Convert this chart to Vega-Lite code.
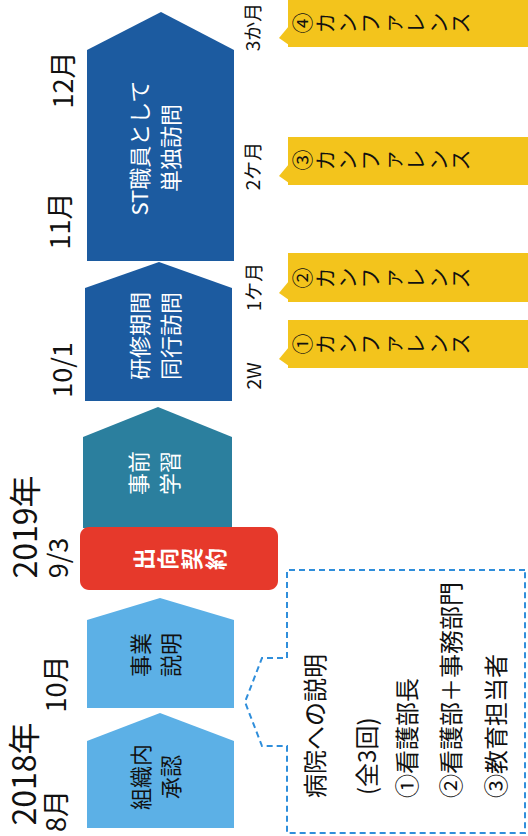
{
  "$schema": "https://vega.github.io/schema/vega-lite/v6.json",
  "width": 528,
  "height": 836,
  "autosize": "none",
  "padding": 0,
  "background": "white",
  "config": {"view": {"stroke": null}, "text": {"font": "Noto Sans CJK JP"}},
  "layer": [
    {
      "data": {"values": [
        {"id": "組織内承認", "phase": "説明", "x": 87, "y": 741, "y2": 828},
        {"id": "組織内承認", "phase": "説明", "x": 160, "y": 713, "y2": 828},
        {"id": "組織内承認", "phase": "説明", "x": 234, "y": 741, "y2": 828},
        {"id": "事業説明", "phase": "説明", "x": 87, "y": 620, "y2": 708},
        {"id": "事業説明", "phase": "説明", "x": 160, "y": 598, "y2": 708},
        {"id": "事業説明", "phase": "説明", "x": 234, "y": 620, "y2": 708},
        {"id": "事前学習", "phase": "学習", "x": 83, "y": 437, "y2": 528},
        {"id": "事前学習", "phase": "学習", "x": 158, "y": 407, "y2": 528},
        {"id": "事前学習", "phase": "学習", "x": 232, "y": 437, "y2": 528},
        {"id": "研修期間同行訪問", "phase": "訪問", "x": 85, "y": 288, "y2": 401},
        {"id": "研修期間同行訪問", "phase": "訪問", "x": 159, "y": 262, "y2": 401},
        {"id": "研修期間同行訪問", "phase": "訪問", "x": 232, "y": 288, "y2": 401},
        {"id": "単独訪問", "phase": "訪問", "x": 87, "y": 50, "y2": 261},
        {"id": "単独訪問", "phase": "訪問", "x": 161, "y": 12, "y2": 261},
        {"id": "単独訪問", "phase": "訪問", "x": 234, "y": 50, "y2": 261}
      ]},
      "mark": {"type": "area", "interpolate": "linear", "opacity": 1},
      "encoding": {
        "x": {"field": "x", "type": "quantitative", "scale": {"domain": [0, 528], "nice": false, "zero": false}, "axis": null},
        "y": {"field": "y", "type": "quantitative", "stack": null, "scale": {"domain": [0, 836], "nice": false, "zero": false, "reverse": true}, "axis": null},
        "y2": {"field": "y2"},
        "detail": {"field": "id", "type": "nominal"},
        "color": {"field": "phase", "type": "nominal", "legend": null,
          "scale": {"domain": ["説明", "学習", "訪問", "契約", "カンファレンス"], "range": ["#5cb0e6", "#2b7f9e", "#1c5ba0", "#e6392b", "#f3c41c"]}}
      }
    },
    {
      "data": {"values": [{"label": "出向契約", "phase": "契約", "x": 80, "x2": 278, "y": 527, "y2": 590}]},
      "mark": {"type": "rect", "cornerRadius": 9},
      "encoding": {
        "x": {"field": "x", "type": "quantitative", "scale": {"domain": [0, 528], "nice": false, "zero": false}, "axis": null},
        "x2": {"field": "x2"},
        "y": {"field": "y", "type": "quantitative", "scale": {"domain": [0, 836], "nice": false, "zero": false, "reverse": true}, "axis": null},
        "y2": {"field": "y2"},
        "color": {"field": "phase", "type": "nominal", "legend": null,
          "scale": {"domain": ["説明", "学習", "訪問", "契約", "カンファレンス"], "range": ["#5cb0e6", "#2b7f9e", "#1c5ba0", "#e6392b", "#f3c41c"]}}
      }
    },
    {
      "data": {"values": [
        {"n": 4, "phase": "カンファレンス", "x": 288, "x2": 528, "y": 0, "y2": 47},
        {"n": 3, "phase": "カンファレンス", "x": 288, "x2": 528, "y": 137, "y2": 185},
        {"n": 2, "phase": "カンファレンス", "x": 288, "x2": 528, "y": 253, "y2": 302},
        {"n": 1, "phase": "カンファレンス", "x": 288, "x2": 528, "y": 320, "y2": 368}
      ]},
      "mark": {"type": "rect"},
      "encoding": {
        "x": {"field": "x", "type": "quantitative", "scale": {"domain": [0, 528], "nice": false, "zero": false}, "axis": null},
        "x2": {"field": "x2"},
        "y": {"field": "y", "type": "quantitative", "scale": {"domain": [0, 836], "nice": false, "zero": false, "reverse": true}, "axis": null},
        "y2": {"field": "y2"},
        "color": {"field": "phase", "type": "nominal", "legend": null,
          "scale": {"domain": ["説明", "学習", "訪問", "契約", "カンファレンス"], "range": ["#5cb0e6", "#2b7f9e", "#1c5ba0", "#e6392b", "#f3c41c"]}}
      }
    },
    {
      "data": {"values": [
        {"n": 4, "phase": "カンファレンス", "x": 279, "y": 38, "y2": 38},
        {"n": 4, "phase": "カンファレンス", "x": 289, "y": 26, "y2": 45},
        {"n": 3, "phase": "カンファレンス", "x": 279, "y": 176, "y2": 176},
        {"n": 3, "phase": "カンファレンス", "x": 289, "y": 164, "y2": 183},
        {"n": 2, "phase": "カンファレンス", "x": 279, "y": 293, "y2": 293},
        {"n": 2, "phase": "カンファレンス", "x": 289, "y": 281, "y2": 300},
        {"n": 1, "phase": "カンファレンス", "x": 279, "y": 359, "y2": 359},
        {"n": 1, "phase": "カンファレンス", "x": 289, "y": 347, "y2": 366}
      ]},
      "mark": {"type": "area", "interpolate": "linear"},
      "encoding": {
        "x": {"field": "x", "type": "quantitative", "scale": {"domain": [0, 528], "nice": false, "zero": false}, "axis": null},
        "y": {"field": "y", "type": "quantitative", "stack": null, "scale": {"domain": [0, 836], "nice": false, "zero": false, "reverse": true}, "axis": null},
        "y2": {"field": "y2"},
        "detail": {"field": "n", "type": "nominal"},
        "color": {"field": "phase", "type": "nominal", "legend": null,
          "scale": {"domain": ["説明", "学習", "訪問", "契約", "カンファレンス"], "range": ["#5cb0e6", "#2b7f9e", "#1c5ba0", "#e6392b", "#f3c41c"]}}
      }
    },
    {
      "data": {"values": [
        {"seq": 1, "x": 525, "y": 570},
        {"seq": 2, "x": 287, "y": 570},
        {"seq": 3, "x": 287, "y": 658},
        {"seq": 4, "x": 262, "y": 658},
        {"seq": 5, "x": 245, "y": 702},
        {"seq": 6, "x": 262, "y": 746},
        {"seq": 7, "x": 287, "y": 746},
        {"seq": 8, "x": 287, "y": 833},
        {"seq": 9, "x": 525, "y": 833},
        {"seq": 10, "x": 525, "y": 570}
      ]},
      "mark": {"type": "line", "color": "#2f8edb", "strokeWidth": 2, "strokeDash": [6, 4]},
      "encoding": {
        "x": {"field": "x", "type": "quantitative", "scale": {"domain": [0, 528], "nice": false, "zero": false}, "axis": null},
        "y": {"field": "y", "type": "quantitative", "scale": {"domain": [0, 836], "nice": false, "zero": false, "reverse": true}, "axis": null},
        "order": {"field": "seq", "type": "quantitative"}
      }
    },
    {
      "data": {"values": [
        {"label": "組織内\n承認", "x": 142, "y": 777},
        {"label": "事業\n説明", "x": 142, "y": 655}
      ]},
      "mark": {"type": "text", "angle": 270, "align": "center", "baseline": "middle", "fontSize": 22, "lineHeight": 30, "lineBreak": "\n", "color": "#111111"},
      "encoding": {
        "x": {"field": "x", "type": "quantitative", "scale": {"domain": [0, 528], "nice": false, "zero": false}, "axis": null},
        "y": {"field": "y", "type": "quantitative", "scale": {"domain": [0, 836], "nice": false, "zero": false, "reverse": true}, "axis": null},
        "text": {"field": "label", "type": "nominal"}
      }
    },
    {
      "data": {"values": [
        {"label": "事前\n学習", "x": 140, "y": 473},
        {"label": "研修期間\n同行訪問", "x": 141, "y": 336},
        {"label": "ST職員として\n単独訪問", "x": 141, "y": 148}
      ]},
      "mark": {"type": "text", "angle": 270, "align": "center", "baseline": "middle", "fontSize": 22, "lineHeight": 31, "lineBreak": "\n", "color": "white"},
      "encoding": {
        "x": {"field": "x", "type": "quantitative", "scale": {"domain": [0, 528], "nice": false, "zero": false}, "axis": null},
        "y": {"field": "y", "type": "quantitative", "scale": {"domain": [0, 836], "nice": false, "zero": false, "reverse": true}, "axis": null},
        "text": {"field": "label", "type": "nominal"}
      }
    },
    {
      "data": {"values": [{"label": "出\n向\n契\n約", "x": 145, "y": 559}]},
      "mark": {"type": "text", "angle": 270, "align": "center", "baseline": "middle", "fontSize": 22, "fontWeight": "bold", "lineHeight": 24, "lineBreak": "\n", "color": "white"},
      "encoding": {
        "x": {"field": "x", "type": "quantitative", "scale": {"domain": [0, 528], "nice": false, "zero": false}, "axis": null},
        "y": {"field": "y", "type": "quantitative", "scale": {"domain": [0, 836], "nice": false, "zero": false, "reverse": true}, "axis": null},
        "text": {"field": "label", "type": "nominal"}
      }
    },
    {
      "data": {"values": [
        {"label": "④\nカ\nン\nフ\nァ\nレ\nン\nス", "x": 304, "y": 23},
        {"label": "③\nカ\nン\nフ\nァ\nレ\nン\nス", "x": 304, "y": 160},
        {"label": "②\nカ\nン\nフ\nァ\nレ\nン\nス", "x": 304, "y": 278},
        {"label": "①\nカ\nン\nフ\nァ\nレ\nン\nス", "x": 304, "y": 344}
      ]},
      "mark": {"type": "text", "angle": 270, "align": "center", "baseline": "middle", "fontSize": 21, "lineHeight": 22.6, "lineBreak": "\n", "color": "#111111"},
      "encoding": {
        "x": {"field": "x", "type": "quantitative", "scale": {"domain": [0, 528], "nice": false, "zero": false}, "axis": null},
        "y": {"field": "y", "type": "quantitative", "scale": {"domain": [0, 836], "nice": false, "zero": false, "reverse": true}, "axis": null},
        "text": {"field": "label", "type": "nominal"}
      }
    },
    {
      "data": {"values": [
        {"label": "2018年", "x": 26, "y": 774},
        {"label": "2019年", "x": 27, "y": 527}
      ]},
      "mark": {"type": "text", "angle": 270, "align": "center", "baseline": "middle", "fontSize": 32, "color": "#111111"},
      "encoding": {
        "x": {"field": "x", "type": "quantitative", "scale": {"domain": [0, 528], "nice": false, "zero": false}, "axis": null},
        "y": {"field": "y", "type": "quantitative", "scale": {"domain": [0, 836], "nice": false, "zero": false, "reverse": true}, "axis": null},
        "text": {"field": "label", "type": "nominal"}
      }
    },
    {
      "data": {"values": [
        {"label": "8月", "x": 58, "y": 811},
        {"label": "10月", "x": 58, "y": 684},
        {"label": "9/3", "x": 60, "y": 558},
        {"label": "10/1", "x": 64, "y": 370},
        {"label": "11月", "x": 62, "y": 221},
        {"label": "12月", "x": 65, "y": 80}
      ]},
      "mark": {"type": "text", "angle": 270, "align": "center", "baseline": "middle", "fontSize": 27, "color": "#111111"},
      "encoding": {
        "x": {"field": "x", "type": "quantitative", "scale": {"domain": [0, 528], "nice": false, "zero": false}, "axis": null},
        "y": {"field": "y", "type": "quantitative", "scale": {"domain": [0, 836], "nice": false, "zero": false, "reverse": true}, "axis": null},
        "text": {"field": "label", "type": "nominal"}
      }
    },
    {
      "data": {"values": [
        {"label": "3か月", "x": 254, "y": 27},
        {"label": "2ケ月", "x": 254, "y": 166},
        {"label": "1ケ月", "x": 255, "y": 287},
        {"label": "2W", "x": 255, "y": 376}
      ]},
      "mark": {"type": "text", "angle": 270, "align": "center", "baseline": "middle", "fontSize": 19, "color": "#111111"},
      "encoding": {
        "x": {"field": "x", "type": "quantitative", "scale": {"domain": [0, 528], "nice": false, "zero": false}, "axis": null},
        "y": {"field": "y", "type": "quantitative", "scale": {"domain": [0, 836], "nice": false, "zero": false, "reverse": true}, "axis": null},
        "text": {"field": "label", "type": "nominal"}
      }
    },
    {
      "data": {"values": [
        {"label": "病院への説明", "x": 317, "y": 798},
        {"label": "(全3回)", "x": 369, "y": 795},
        {"label": "①看護部長", "x": 409, "y": 798},
        {"label": "②看護部＋事務部門", "x": 453, "y": 798},
        {"label": "③教育担当者", "x": 498, "y": 798}
      ]},
      "mark": {"type": "text", "angle": 270, "align": "left", "baseline": "middle", "fontSize": 24, "color": "#111111"},
      "encoding": {
        "x": {"field": "x", "type": "quantitative", "scale": {"domain": [0, 528], "nice": false, "zero": false}, "axis": null},
        "y": {"field": "y", "type": "quantitative", "scale": {"domain": [0, 836], "nice": false, "zero": false, "reverse": true}, "axis": null},
        "text": {"field": "label", "type": "nominal"}
      }
    }
  ]
}
